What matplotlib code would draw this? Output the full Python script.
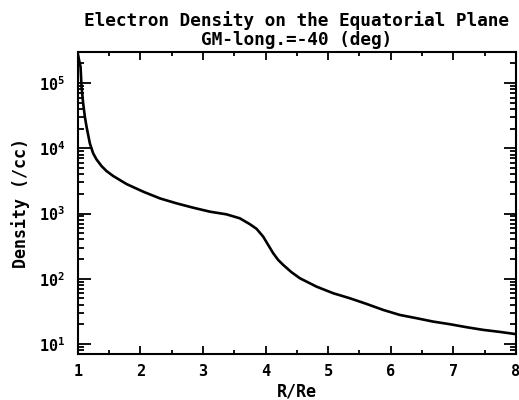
import matplotlib
matplotlib.use("Agg")
import matplotlib.pyplot as plt
from matplotlib.ticker import LogLocator, FixedLocator, MultipleLocator

# electron density profile along the equatorial plane (log10 of /cc)
r_re = [1.000, 1.020, 1.043, 1.059, 1.085, 1.112, 1.139, 1.192, 1.245, 1.298,
        1.378, 1.458, 1.565, 1.778, 2.044, 2.311, 2.577, 2.843, 3.110, 3.376,
        3.589, 3.749, 3.856, 3.962, 4.042, 4.122, 4.202, 4.282, 4.415, 4.548,
        4.815, 5.081, 5.347, 5.614, 5.880, 6.146, 6.413, 6.679, 6.945, 7.212,
        7.478, 7.744, 8.000]
log_density = [5.45, 5.35, 5.25, 4.944, 4.688, 4.484, 4.331, 4.075, 3.922, 3.830,
               3.728, 3.651, 3.575, 3.452, 3.335, 3.232, 3.156, 3.089, 3.028, 2.987,
               2.926, 2.836, 2.765, 2.645, 2.517, 2.390, 2.287, 2.211, 2.099, 2.007,
               1.878, 1.777, 1.700, 1.613, 1.521, 1.444, 1.394, 1.342, 1.302, 1.256,
               1.215, 1.184, 1.150]
density = [10 ** v for v in log_density]

x_ticks = [1, 2, 3, 4, 5, 6, 7, 8]
title = "Electron Density on the Equatorial Plane\nGM-long.=-40 (deg)"

plt.rcParams["font.family"] = "DejaVu Sans Mono"
plt.rcParams["font.weight"] = "bold"
plt.rcParams["axes.titleweight"] = "bold"
plt.rcParams["axes.labelweight"] = "bold"
plt.rcParams["mathtext.fontset"] = "custom"
plt.rcParams["mathtext.rm"] = "DejaVu Sans Mono:bold"
plt.rcParams["mathtext.it"] = "DejaVu Sans Mono:bold"

fig = plt.figure(figsize=(5.19, 4.0), dpi=100)
ax = fig.add_axes([0.150, 0.115, 0.844, 0.755])

ax.plot(r_re, density, color="black", linewidth=1.9, solid_joinstyle="round")

ax.set_yscale("log")
ax.set_xlim(1, 8)
ax.set_ylim(7, 3e5)

ax.xaxis.set_major_locator(FixedLocator(x_ticks))
ax.xaxis.set_minor_locator(MultipleLocator(0.5))
ax.yaxis.set_major_locator(LogLocator(base=10))
ax.yaxis.set_minor_locator(LogLocator(base=10, subs=range(2, 10)))
ax.set_xticklabels([str(v) for v in x_ticks])

ax.tick_params(axis="both", which="both", direction="in", top=True, right=True,
               color="black", width=1.3, labelsize=11)
ax.tick_params(axis="x", which="major", length=6, pad=7)
ax.tick_params(axis="x", which="minor", length=3)
ax.tick_params(axis="y", which="major", length=9, pad=9)
ax.tick_params(axis="y", which="minor", length=4)

for s in ax.spines.values():
    s.set_linewidth(1.5)

ax.set_xlabel("R/Re", fontsize=12, labelpad=3)
ax.set_ylabel("Density (/cc)", fontsize=12, labelpad=6)
ax.set_title(title, fontsize=12.8, pad=5, linespacing=1.05)

fig.savefig("out.png", dpi=100)
